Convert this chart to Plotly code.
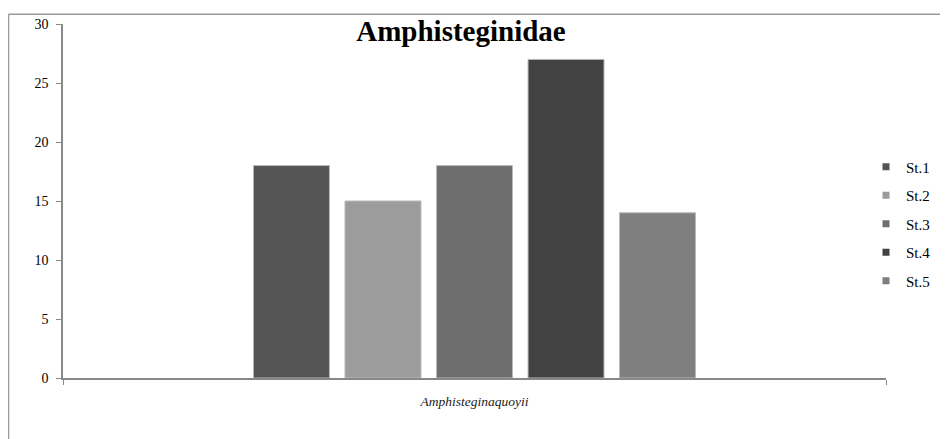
import plotly.graph_objects as go

categories = ["Amphisteginaquoyii"]
stations = ["St.1", "St.2", "St.3", "St.4", "St.5"]
values = [18, 15, 18, 27, 14]
colors = ["#545454", "#9c9c9c", "#6e6e6e", "#424242", "#7f7f7f"]
y_ticks = [0, 5, 10, 15, 20, 25, 30]

SERIF = "Times New Roman, Liberation Serif, serif"

fig = go.Figure()
for i, (name, v, c) in enumerate(zip(stations, values, colors)):
    fig.add_trace(go.Bar(
        x=categories, y=[v], name=name, marker=dict(color=c, line=dict(color="#b8b8b8", width=1)),
        showlegend=False,
    ))
    fig.add_trace(go.Scatter(
        x=[None], y=[None], mode="markers", name=name, legendgroup=name,
        marker=dict(symbol="square", size=7, color=c), showlegend=True,
    ))

OFF = 8  # page body margin
W, H = 948 - OFF, 439 - OFF
L, T = 63 - OFF, 17 - OFF
pw, ph = 823, 361
R, B = W - L - pw, H - T - ph
bx = (0.5 - L) / pw
by = 1 + (T - (6 - OFF + 1)) / ph

fig.update_layout(
    width=W, height=H,
    margin=dict(l=L, r=R, t=T, b=B),
    paper_bgcolor="white", plot_bgcolor="white",
    barmode="group", bargap=0.444, bargroupgap=0.17,
    font=dict(family=SERIF, size=14, color="black"),
    title=dict(text="Amphisteginidae", x=(461 - OFF) / W, xanchor="center",
               y=1 - (31 - OFF) / H, yanchor="middle",
               font=dict(family=SERIF, size=29, weight="bold", color="black")),
    legend=dict(x=1.0 + (866 - 886) / pw, xanchor="left", y=(378 - 221) / ph, yanchor="middle",
                font=dict(family=SERIF, size=15), tracegroupgap=6,
                bgcolor="rgba(0,0,0,0)"),
    shapes=[
        dict(type="line", xref="paper", yref="paper", x0=bx, x1=1 + (R + 5) / pw, y0=by, y1=by,
             line=dict(color="#999999", width=1.5)),
        dict(type="line", xref="paper", yref="paper", x0=bx, x1=bx, y0=by, y1=-(B + 5) / ph,
             line=dict(color="#999999", width=1.5)),
    ],
)
fig.update_xaxes(
    showline=True, linecolor="#888888", linewidth=1.5, ticks="outside", tickson="boundaries",
    ticklen=5, tickcolor="#888888", ticklabelstandoff=10,
    tickfont=dict(family=SERIF, size=13.5, style="italic", color="#222222"),
)
fig.update_yaxes(
    range=[0, 30], tickvals=y_ticks, showline=True, linecolor="#888888", linewidth=1.5,
    ticks="outside", ticklen=5, tickcolor="#888888", showgrid=False, zeroline=False,
    ticklabelstandoff=5, tickfont=dict(family=SERIF, size=14, color="black"),
)
fig.write_html("out.html")
